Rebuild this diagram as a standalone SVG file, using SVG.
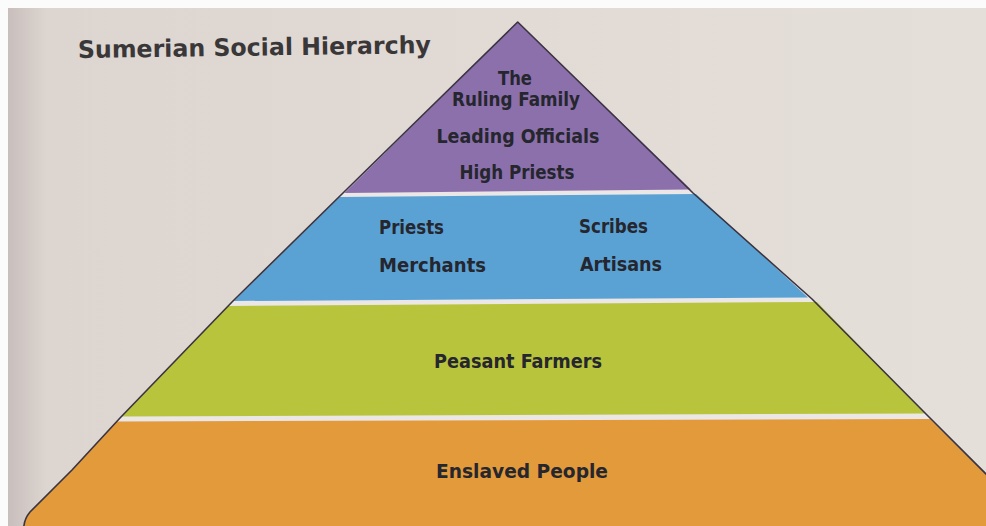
<svg xmlns="http://www.w3.org/2000/svg" width="986" height="526" viewBox="0 0 986 526">
  <defs>
    <linearGradient id="paper" x1="0" y1="0" x2="1" y2="0">
      <stop offset="0" stop-color="#c8bfbc"/>
      <stop offset="0.04" stop-color="#ddd5d0"/>
      <stop offset="1" stop-color="#e5dfda"/>
    </linearGradient>
  </defs>
  <style>
    .lbl { font-family: "Liberation Sans Narrow", "DejaVu Sans Condensed", "Liberation Sans", sans-serif; font-weight: bold; font-size: 19.5px; fill: #25262e; }
    .title { font-family: "Liberation Sans Narrow", "DejaVu Sans Condensed", "Liberation Sans", sans-serif; font-weight: bold; font-size: 24px; fill: #3a3739; }
    .edge { fill: none; stroke: #3a3340; stroke-width: 1.6; stroke-linejoin: round; }
  </style>
  <rect x="0" y="0" width="986" height="526" fill="#fbfbfb"/>
  <rect x="8" y="8" width="978" height="518" fill="url(#paper)"/>

  <text class="title" x="78" y="58" transform="rotate(-0.8 78 58)" textLength="353" lengthAdjust="spacingAndGlyphs">Sumerian Social Hierarchy</text>

  <path d="M517.7 22 L693 193 L812 299 L928 416 L1052 540 L26 540 Q20 524 30 512 L72 470 L120 418 L232 302 L343 193 Z" fill="#ebe7e6"/>

  <g id="tier-top">
    <polygon points="517.7,22 691,189.5 344.5,193" fill="#8c70ab"/>
    <text class="lbl" x="515" y="85" text-anchor="middle" textLength="34" lengthAdjust="spacingAndGlyphs">The</text>
    <text class="lbl" x="516" y="106" text-anchor="middle" textLength="128" lengthAdjust="spacingAndGlyphs">Ruling Family</text>
    <text class="lbl" x="518" y="143" text-anchor="middle" textLength="163" lengthAdjust="spacingAndGlyphs">Leading Officials</text>
    <text class="lbl" x="517" y="179" text-anchor="middle" textLength="115" lengthAdjust="spacingAndGlyphs">High Priests</text>
  </g>

  <g id="tier-middle">
    <polygon points="339.5,197 696,194 808,297.5 234,301" fill="#5ba2d4"/>
    <text class="lbl" x="379" y="234" textLength="65" lengthAdjust="spacingAndGlyphs">Priests</text>
    <text class="lbl" x="579" y="233" textLength="69" lengthAdjust="spacingAndGlyphs">Scribes</text>
    <text class="lbl" x="379" y="272" textLength="107" lengthAdjust="spacingAndGlyphs">Merchants</text>
    <text class="lbl" x="580" y="271" textLength="82" lengthAdjust="spacingAndGlyphs">Artisans</text>
  </g>

  <g id="tier-farmers">
    <polygon points="228,306 817,302 925,413.5 122,416.5" fill="#b8c43c"/>
    <text class="lbl" x="434" y="368" textLength="168" lengthAdjust="spacingAndGlyphs">Peasant Farmers</text>
  </g>

  <g id="tier-enslaved">
    <path d="M117 421.5 L930 419 L1052 540 L26 540 Q20 524 30 512 L72 470 Z" fill="#e39a3b"/>
    <text class="lbl" x="436" y="478" textLength="172" lengthAdjust="spacingAndGlyphs">Enslaved People</text>
  </g>

  <g id="connectors">
    <path class="edge" d="M26 540 Q20 524 30 512 L72 470 L120 418 L232 302 L343 193 L517.7 22 L693 193 L812 299 L928 416 L1052 540"/>
  </g>
</svg>
